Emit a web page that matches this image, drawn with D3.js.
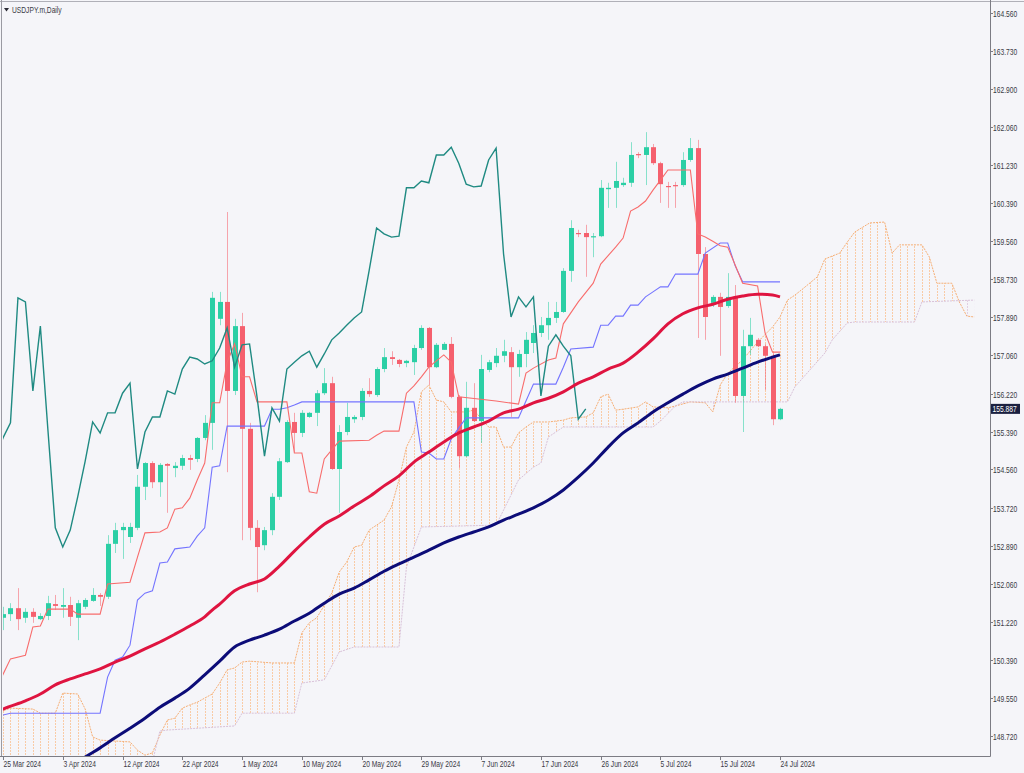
<!DOCTYPE html>
<html><head><meta charset="utf-8">
<script src="https://cdn.jsdelivr.net/npm/d3@7"></script>
<style>html,body{margin:0;padding:0;background:#f5f5f9;}svg{display:block;}</style>
</head><body><svg id="c" width="1024" height="773"></svg>
<script>
// ---------- data ----------
const title = "USDJPY.m,Daily";
const xTickIdx = [0,8,16,24,32,40,48,56,64,72,80,88,96,104];
const xTickLabels = ["25 Mar 2024","3 Apr 2024","12 Apr 2024","22 Apr 2024","1 May 2024","10 May 2024","20 May 2024","29 May 2024","7 Jun 2024","17 Jun 2024","26 Jun 2024","5 Jul 2024","15 Jul 2024","24 Jul 2024"];
const yTickLabels = ["164.560","163.730","162.900","162.060","161.230","160.390","159.560","158.730","157.890","157.060","156.220","155.390","154.560","153.720","152.890","152.060","151.220","150.390","149.550","148.720"];
const lastPrice = 155.887;

const open = [151.31,151.39,151.52,151.31,151.44,151.28,151.35,151.61,151.55,151.59,
151.31,151.55,151.68,151.81,151.77,152.93,153.23,153.08,153.28,154.18,
154.70,154.28,154.68,154.59,154.64,154.81,154.79,155.25,155.58,157.86,
158.23,156.28,157.70,155.45,153.28,152.90,153.23,153.96,154.72,155.60,
155.36,155.71,155.80,156.23,156.45,154.57,155.38,155.66,155.71,156.28,
156.19,156.76,157.02,156.96,156.89,156.91,157.22,157.66,156.80,157.18,
157.31,156.15,154.85,155.91,155.62,156.74,156.89,157.05,157.13,156.80,
157.09,157.33,157.55,157.72,157.88,158.01,158.91,159.74,159.74,159.65,
159.67,160.70,160.73,160.79,160.84,161.47,161.45,161.62,161.27,160.77,
160.79,160.79,161.34,161.60,159.28,158.21,158.34,158.14,158.34,156.17,
157.26,157.40,157.26,157.05,155.66];
const high = [151.55,151.63,151.96,151.52,151.52,151.41,151.79,151.81,151.96,151.77,
151.70,151.74,151.96,151.85,153.12,153.39,153.39,153.39,154.44,154.72,
154.74,154.70,154.70,154.72,154.88,154.88,155.27,155.75,158.45,158.45,
160.20,157.86,157.99,155.58,153.45,153.30,154.04,154.81,155.64,155.80,
155.86,155.82,156.30,156.78,156.59,155.53,156.02,155.75,156.34,156.56,
156.80,157.22,157.15,156.98,156.96,157.29,157.72,157.68,157.33,157.35,
157.46,156.19,156.48,156.45,157.07,156.96,157.22,157.40,157.24,157.18,
157.57,157.72,157.90,158.23,158.23,158.97,160.02,159.81,159.92,159.74,
160.90,160.84,161.30,160.95,161.73,161.51,161.95,161.69,161.30,160.86,
160.86,161.51,161.82,161.78,159.43,158.38,158.43,158.86,158.60,157.62,
157.88,157.44,157.31,157.11,155.91];
const low = [151.04,151.24,151.04,151.20,151.20,151.26,151.26,151.48,151.31,151.13,
150.82,151.50,151.66,151.57,151.72,152.73,152.60,152.95,153.23,153.89,
154.15,153.96,153.61,154.39,154.55,154.55,154.72,155.20,154.99,157.72,
154.50,156.19,153.01,153.01,151.87,152.79,153.12,153.89,154.70,154.94,
155.27,155.69,155.51,156.19,154.55,153.61,155.31,155.58,155.64,156.15,
156.15,156.69,156.85,156.80,156.80,156.63,157.18,156.41,156.78,157.18,
156.12,154.59,154.83,155.60,155.14,156.69,156.80,156.91,155.71,156.59,
156.80,157.11,157.46,157.40,157.77,157.99,158.67,159.65,158.78,159.21,
159.65,160.29,160.29,160.75,160.75,161.38,160.79,161.23,160.40,160.29,
160.29,160.75,161.30,157.44,157.40,158.12,157.05,158.10,156.02,155.38,
157.07,157.24,156.30,155.53,155.64];
const close = [151.39,151.52,151.28,151.44,151.33,151.35,151.63,151.57,151.59,151.33,
151.63,151.70,151.81,151.77,152.93,153.23,153.30,153.30,154.18,154.70,
154.28,154.66,154.64,154.64,154.81,154.77,155.25,155.58,158.32,158.23,
156.28,157.70,155.45,153.28,152.86,153.23,153.96,154.74,155.60,155.36,
155.80,155.80,156.23,156.45,154.57,155.38,155.71,155.71,156.28,156.21,
156.76,157.02,156.98,156.87,156.94,157.22,157.66,156.80,157.29,157.31,
156.15,154.85,155.91,155.62,156.76,156.91,157.05,157.15,156.80,157.09,
157.40,157.55,157.72,157.88,158.01,158.91,159.85,159.72,159.65,159.67,
160.73,160.73,160.88,160.84,161.45,161.45,161.62,161.27,160.81,160.75,
160.77,161.34,161.60,159.28,157.90,158.34,158.12,158.34,156.17,157.26,
157.51,157.26,157.05,155.66,155.887];

const tenkan = [[-1,149.73],[1,150.41],[3,150.49],[4,151.11],[5,151.13],[6,151.50],[9,151.50],[10,151.39],[13,151.39],[14,152.05],[17,152.09],[18,152.64],[19,153.17],[21,153.19],[22,153.28],[23,153.69],[24,153.72],[25,153.93],[26,154.33],[27,154.70],[28,156.02],[29,156.02],[30,156.91],[31,157.31],[32,156.59],[33,156.59],[34,156.04],[38,156.04],[39,154.92],[40,154.92],[41,154.07],[42,154.04],[43,154.79],[44,154.99],[45,155.18],[49,155.20],[50,155.31],[51,155.40],[53,155.40],[54,156.23],[55,156.39],[56,156.59],[57,156.80],[58,156.94],[59,157.07],[60,156.91],[61,156.15],[66,156.06],[69,155.99],[70,156.67],[71,156.78],[73,156.96],[74,157.00],[75,157.75],[77,158.23],[79,158.64],[80,159.06],[82,159.43],[83,159.63],[84,160.22],[85,160.31],[86,160.44],[87,160.68],[88,160.90],[89,161.12],[92,161.12],[93,159.72],[94,159.65],[95,159.56],[96,159.46],[97,159.43],[98,159.04],[99,158.64],[101,158.58],[102,157.55],[103,157.13],[104,157.13]];
const kijun = [[-1,149.16],[0,149.18],[1,149.22],[13,149.22],[14,150.01],[15,150.38],[16,150.45],[17,150.71],[18,151.70],[19,151.85],[20,151.90],[21,152.51],[22,152.53],[23,152.82],[25,152.86],[26,153.10],[27,153.28],[28,154.61],[29,154.64],[30,155.51],[35,155.51],[36,155.88],[37,155.88],[38,155.91],[39,155.97],[40,156.04],[55,156.04],[56,154.94],[57,154.92],[58,154.79],[59,154.79],[60,155.23],[61,155.47],[62,155.69],[69,155.69],[70,156.06],[71,156.43],[74,156.43],[75,156.80],[76,157.20],[79,157.24],[80,157.72],[81,157.72],[82,157.92],[83,157.92],[84,158.16],[85,158.16],[86,158.34],[87,158.45],[88,158.56],[89,158.56],[90,158.84],[93,158.84],[94,159.30],[96,159.52],[97,159.52],[98,159.02],[99,158.67],[104,158.67]];
const senkouA = [[-1,149.22],[1,149.33],[4,149.31],[5,149.22],[7,149.22],[8,149.66],[10,149.64],[11,149.31],[12,148.70],[13,148.63],[15,148.61],[17,148.59],[18,148.41],[19,148.30],[20,148.35],[21,148.74],[22,149.07],[23,149.11],[24,149.33],[25,149.40],[26,149.46],[28,149.64],[29,149.88],[30,150.17],[31,150.21],[32,150.34],[33,150.36],[36,150.32],[39,150.32],[40,150.98],[41,151.20],[42,151.31],[44,151.85],[45,152.31],[46,152.53],[47,152.86],[48,152.90],[49,153.23],[51,153.45],[52,153.74],[53,154.33],[54,155.05],[55,155.38],[56,156.26],[57,156.41],[58,156.08],[59,156.04],[60,155.82],[62,155.82],[63,155.86],[65,155.49],[66,155.49],[67,155.05],[68,155.05],[69,155.36],[70,155.49],[71,155.60],[73,155.60],[75,155.64],[76,155.69],[78,155.71],[79,155.80],[80,156.15],[81,156.21],[82,155.86],[83,155.88],[85,155.93],[86,156.04],[87,155.93],[89,155.91],[90,155.95],[92,156.04],[94,156.02],[95,155.82],[96,156.41],[97,156.67],[99,156.96],[101,157.35],[103,157.68],[104,157.90],[105,158.27],[106,158.38],[107,158.51],[109,158.78],[110,159.17],[112,159.30],[113,159.54],[114,159.76],[116,159.96],[118,159.98],[119,159.30],[120,159.48],[123,159.48],[124,159.21],[125,158.64],[127,158.64],[128,158.23],[129,157.92],[130,157.90]];
const senkouB = [[-1,147.76],[19,147.76],[20,148.15],[21,148.83],[22,148.85],[31,148.94],[32,149.22],[39,149.22],[40,149.88],[43,149.95],[45,150.56],[47,150.67],[53,150.67],[54,152.42],[55,152.86],[56,153.30],[66,153.34],[67,153.67],[69,154.33],[71,154.61],[72,154.70],[73,155.27],[75,155.49],[87,155.49],[88,155.62],[90,155.95],[91,156.04],[105,156.04],[106,156.37],[108,156.74],[110,157.11],[111,157.40],[113,157.77],[114,157.79],[122,157.79],[123,158.23],[130,158.27]];
const maRed = [[-1,149.23],[0,149.31],[3,149.49],[5,149.64],[7,149.84],[9,149.97],[11,150.08],[13,150.19],[15,150.34],[17,150.47],[19,150.63],[21,150.78],[23,150.95],[25,151.13],[27,151.33],[28,151.48],[29,151.61],[31,151.90],[33,152.05],[35,152.16],[37,152.44],[39,152.77],[41,153.08],[43,153.36],[45,153.54],[47,153.76],[49,153.96],[51,154.20],[53,154.42],[55,154.72],[57,154.94],[59,155.16],[61,155.36],[63,155.49],[65,155.62],[67,155.80],[69,155.88],[71,156.02],[73,156.12],[75,156.26],[77,156.45],[79,156.59],[81,156.76],[83,156.89],[85,157.13],[87,157.42],[89,157.75],[91,157.97],[93,158.10],[95,158.18],[97,158.29],[99,158.36],[101,158.40],[103,158.38],[104,158.34]];
const maNavy = [[9,148.04],[11,148.26],[13,148.46],[15,148.68],[17,148.89],[19,149.11],[21,149.35],[23,149.55],[25,149.77],[27,150.06],[29,150.36],[31,150.67],[33,150.82],[35,150.93],[37,151.06],[39,151.24],[41,151.41],[43,151.63],[45,151.83],[47,151.96],[49,152.14],[51,152.33],[53,152.49],[55,152.64],[57,152.79],[59,152.95],[61,153.08],[63,153.19],[65,153.30],[67,153.45],[69,153.58],[71,153.72],[73,153.89],[75,154.11],[77,154.39],[79,154.70],[81,155.05],[83,155.36],[85,155.58],[87,155.82],[89,156.02],[91,156.21],[93,156.39],[95,156.54],[97,156.65],[99,156.78],[101,156.91],[103,157.02],[104,157.07]];
const chikouShift = 26;

// ---------- layout ----------
const W = 1024, H = 773;
const plot = {left: 3, top: 3, right: 990, bottom: 756};
const svg = d3.select("#c");
const x = d3.scaleLinear().domain([0, 104]).range([3, 780]);
const y = d3.scaleLinear().domain([148.72, 164.56]).range([736, 13]);

const bull = "#2bcfa5", bear = "#f5606e";
const defs = svg.append("defs");
defs.append("clipPath").attr("id","plotclip").append("rect")
  .attr("x",plot.left).attr("y",plot.top).attr("width",plot.right-plot.left).attr("height",plot.bottom-plot.top);

const lineGen = d3.line().x(d=>x(d[0])).y(d=>y(d[1]));
const bigBottom = plot.bottom + 40, bigTop = plot.top - 40;
function underArea(data){ return d3.area().x(d=>x(d[0])).y0(d=>y(d[1])).y1(bigBottom)(data); }
function aboveArea(data){ return d3.area().x(d=>x(d[0])).y0(bigTop).y1(d=>y(d[1]))(data); }
defs.append("clipPath").attr("id","underA").append("path").attr("d", underArea(senkouA));
defs.append("clipPath").attr("id","aboveB").append("path").attr("d", aboveArea(senkouB));
defs.append("clipPath").attr("id","underB").append("path").attr("d", underArea(senkouB));
defs.append("clipPath").attr("id","aboveA").append("path").attr("d", aboveArea(senkouA));

const pg = svg.append("g").attr("clip-path","url(#plotclip)");

// ---------- cloud ----------
const hatchIdx = d3.range(-1, 131);
function hatch(g, color){
  g.selectAll("line").data(hatchIdx).join("line")
    .attr("x1", d=>Math.round(x(d))+0.5).attr("x2", d=>Math.round(x(d))+0.5)
    .attr("y1", plot.top).attr("y2", plot.bottom)
    .attr("stroke", color).attr("stroke-width",1).attr("stroke-dasharray","2,1");
}
hatch(pg.append("g").attr("clip-path","url(#underA)").append("g").attr("clip-path","url(#aboveB)"), "#f9cba6");
hatch(pg.append("g").attr("clip-path","url(#underB)").append("g").attr("clip-path","url(#aboveA)"), "#e2cfe2");
pg.append("path").attr("d", lineGen(senkouA)).attr("fill","none").attr("stroke","#f5ae74").attr("stroke-width",1).attr("stroke-dasharray","2,1");
pg.append("path").attr("d", lineGen(senkouB)).attr("fill","none").attr("stroke","#d9c2d9").attr("stroke-width",1).attr("stroke-dasharray","2,1");

// ---------- candles ----------
const idx = d3.range(open.length);
const cg = pg.append("g");
cg.selectAll("line.wick").data(idx).join("line").attr("class","wick")
  .attr("x1", i=>Math.round(x(i))+0.5).attr("x2", i=>Math.round(x(i))+0.5)
  .attr("y1", i=>y(high[i])).attr("y2", i=>y(low[i]))
  .attr("stroke", i=> close[i]>=open[i]?bull:bear).attr("stroke-opacity",0.55).attr("stroke-width",1);
cg.selectAll("rect.body").data(idx).join("rect").attr("class","body")
  .attr("x", i=>Math.round(x(i))-2).attr("width",5)
  .attr("y", i=>y(Math.max(open[i],close[i])))
  .attr("height", i=>Math.max(1.2, Math.abs(y(open[i])-y(close[i]))))
  .attr("fill", i=> close[i]>=open[i]?bull:bear);

// ---------- indicator lines ----------
pg.append("path").attr("d", lineGen(kijun)).attr("fill","none").attr("stroke","#7474ff").attr("stroke-width",1.1);
pg.append("path").attr("d", lineGen(tenkan)).attr("fill","none").attr("stroke","#f86c6c").attr("stroke-width",1.1);
const chikou = d3.range(-1, close.length - chikouShift).map(i => [i, close[i + chikouShift]]);
pg.append("path").attr("d", lineGen(chikou)).attr("fill","none").attr("stroke","#1f8a82").attr("stroke-width",1.4);
const smooth = d3.line().x(d=>x(d[0])).y(d=>y(d[1])).curve(d3.curveMonotoneX);
pg.append("path").attr("d", smooth(maNavy)).attr("fill","none").attr("stroke","#0c0c78").attr("stroke-width",3);
pg.append("path").attr("d", smooth(maRed)).attr("fill","none").attr("stroke","#df1440").attr("stroke-width",3);

// ---------- frame & axes ----------
svg.append("line").attr("x1",0).attr("x2",W).attr("y1",1.5).attr("y2",1.5).attr("stroke","#b0b0b8");
svg.append("line").attr("x1",1.5).attr("x2",1.5).attr("y1",0).attr("y2",plot.bottom).attr("stroke","#9a9aa2");
svg.append("line").attr("x1",plot.right+0.5).attr("x2",plot.right+0.5).attr("y1",0).attr("y2",plot.bottom+0.5).attr("stroke","#7c7c84");
svg.append("line").attr("x1",0).attr("x2",plot.right+0.5).attr("y1",plot.bottom+0.5).attr("y2",plot.bottom+0.5).attr("stroke","#7c7c84");

function txt(xp, yp, s, color){
  return svg.append("text").attr("transform",`translate(${xp},${yp}) scale(0.72,1)`)
    .attr("font-family","'Liberation Sans', Arial, sans-serif").attr("font-size","9.3px")
    .attr("fill", color||"#3a3a44").text(s);
}
yTickLabels.forEach(s=>{
  const yy = Math.round(y(+s))+0.5;
  svg.append("line").attr("x1",plot.right).attr("x2",plot.right+3).attr("y1",yy).attr("y2",yy).attr("stroke","#7c7c84");
  txt(993, yy+3.3, s);
});
xTickIdx.forEach((d,k)=>{
  const xx = Math.round(x(d))+0.5;
  svg.append("line").attr("x1",xx).attr("x2",xx).attr("y1",plot.bottom).attr("y2",plot.bottom+4).attr("stroke","#7c7c84");
  txt(xx, 767, xTickLabels[k]);
});
// last price label
const ly = y(lastPrice);
svg.append("rect").attr("x",plot.right+1).attr("y",ly-5).attr("width",29).attr("height",10).attr("fill","#1b2040");
txt(992.5, ly+3.3, lastPrice.toFixed(3), "#ffffff");

// title
svg.append("path").attr("d","M4,8 L9,8 L6.5,11.5 Z").attr("fill","#2a2a34");
txt(12, 13, title, "#3a3a44");
</script>
</body></html>
